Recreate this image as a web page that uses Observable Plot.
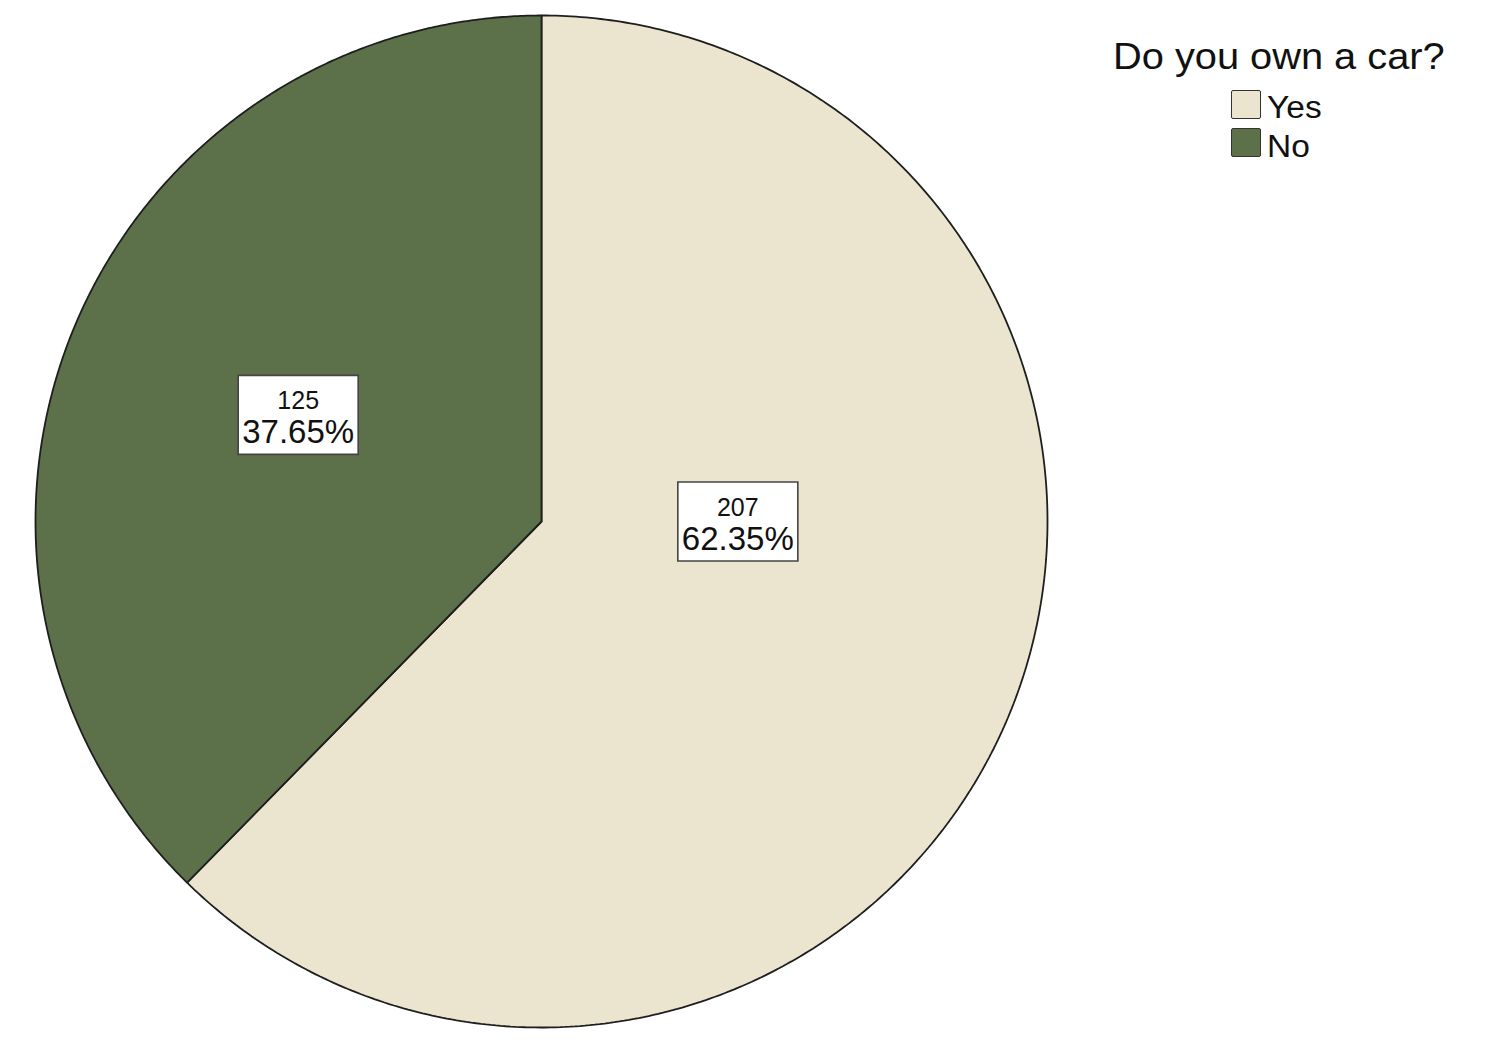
<!DOCTYPE html>
<html>
<head>
<meta charset="utf-8">
<script src="https://cdn.jsdelivr.net/npm/d3@7"></script>
<script src="https://cdn.jsdelivr.net/npm/@observablehq/plot@0.6"></script>
<style>
  html, body { margin: 0; padding: 0; background: #fff; }
  #wrap { position: relative; width: 1490px; height: 1050px; font-family: "Liberation Sans", Arial, sans-serif; }
  #wrap svg { position: absolute; left: 0; top: 0; }
  .lg { position: absolute; line-height: 1; white-space: nowrap; color: #111; transform-origin: 0 0; }
  .sw { position: absolute; width: 28px; height: 27px; border: 1.5px solid #333; border-radius: 2px; }
</style>
</head>
<body>
<div id="wrap"></div>
<script>
// ---- data ----
const legendTitle = "Do you own a car?";
const categories = ["Yes", "No"];
const counts = [207, 125];
const percents = ["62.35%", "37.65%"];
const colors = ["#ebe4cf", "#5c7149"];

// ---- derived geometry (pie angles from d3.pie) ----
const total = d3.sum(counts);
const arcs = d3.pie().sort(null).value(d => d.count)(
  categories.map((c, i) => ({category: c, count: counts[i], pct: percents[i]}))
);

const slicePts = [];
arcs.forEach(a => {
  const n = 400;
  slicePts.push({category: a.data.category, x: 0, y: 0});
  for (let k = 0; k <= n; k++) {
    const t = a.startAngle + (a.endAngle - a.startAngle) * k / n;
    slicePts.push({category: a.data.category, x: Math.sin(t), y: Math.cos(t)});
  }
  slicePts.push({category: a.data.category, x: 0, y: 0});
});

// label placement rule: small slices near mid-angle, the dominant slice on the horizontal through the centre
const labels = arcs.map(a => {
  const share = a.data.count / total;
  const mid = (a.startAngle + a.endAngle) / 2;
  const ang = share > 0.5 ? (Math.sin(mid) >= 0 ? Math.PI / 2 : 3 * Math.PI / 2) : mid + 0.025;
  const rf = share > 0.5 ? 0.388 : 0.525;
  return {x: Math.sin(ang) * rf, y: Math.cos(ang) * rf, count: String(a.data.count), pct: a.data.pct};
});

const boxSymbol = {draw(ctx) { ctx.rect(-60, -39.5, 120, 79); }};

const plot = Plot.plot({
  width: 1490,
  height: 1050,
  x: {domain: [-1, 1], range: [35, 1047], axis: null},
  y: {domain: [-1, 1], range: [1027, 15], axis: null},
  color: {domain: categories, range: colors},
  style: {fontFamily: '"Liberation Sans", Arial, sans-serif', background: "white"},
  marks: [
    Plot.line(slicePts, {x: "x", y: "y", z: "category", fill: "category", stroke: "#1e1e1e", strokeWidth: 1.8, strokeLinejoin: "miter", curve: "linear"}),
    Plot.dot(labels, {x: "x", y: "y", symbol: boxSymbol, fill: "white", stroke: "#444", strokeWidth: 1.6, r: 10}),
    Plot.text(labels, {x: "x", y: "y", text: "count", dy: -14, fontSize: 25, fill: "#111"}),
    Plot.text(labels, {x: "x", y: "y", text: "pct", dy: 18, fontSize: 33, fill: "#111"})
  ]
});

const wrap = document.getElementById("wrap");
wrap.appendChild(plot);

// legend (HTML, colours from the plot's colour scale)
const cs = plot.scale("color");
const t = document.createElement("div");
t.className = "lg";
t.textContent = legendTitle;
t.style.cssText = "left:1113px; top:39px; font-size:36px; transform: scaleX(1.105);";
wrap.appendChild(t);
cs.domain.forEach((c, i) => {
  const sw = document.createElement("div");
  sw.className = "sw";
  sw.style.left = "1231px";
  sw.style.top = (90 + i * 38) + "px";
  sw.style.background = cs.range[i];
  wrap.appendChild(sw);
  const lab = document.createElement("div");
  lab.className = "lg";
  lab.textContent = c;
  lab.style.cssText = `left:1267px; top:${92 + i * 39}px; font-size:31px; transform: scaleX(1.08);`;
  wrap.appendChild(lab);
});
</script>
</body>
</html>
